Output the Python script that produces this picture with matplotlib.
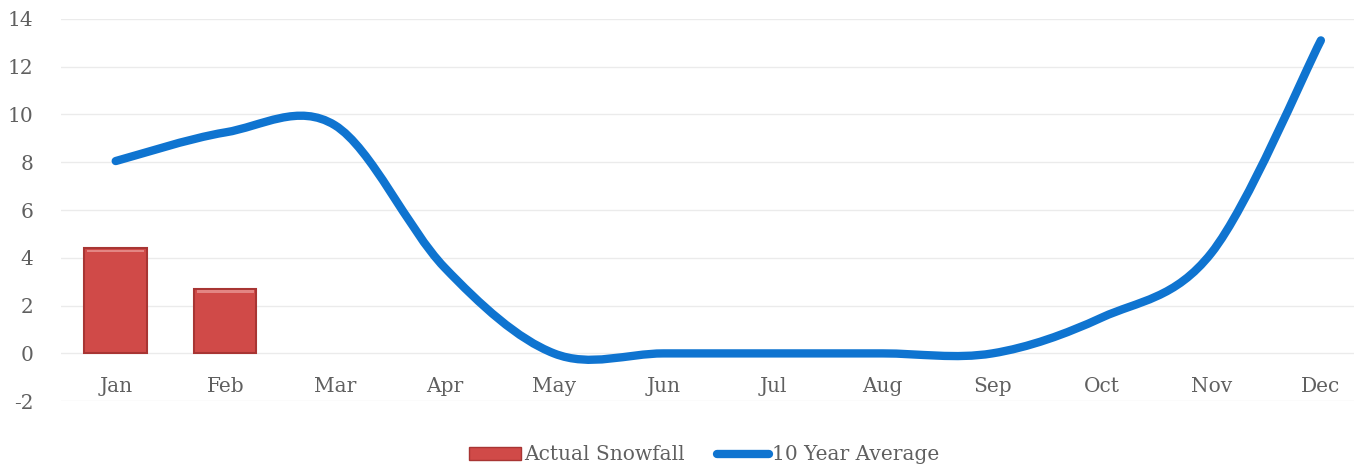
import matplotlib
matplotlib.use("Agg")
import matplotlib.pyplot as plt
import numpy as np
from matplotlib.path import Path
from matplotlib.patches import PathPatch, Patch
from matplotlib.lines import Line2D

months = ['Jan', 'Feb', 'Mar', 'Apr', 'May', 'Jun', 'Jul', 'Aug', 'Sep', 'Oct', 'Nov', 'Dec']
actual_snowfall = [4.4, 2.7]          # only Jan and Feb reported so far
ten_year_average = [8.05, 9.25, 9.55, 3.6, 0.0, 0.0, 0.0, 0.0, 0.0, 1.5, 4.2, 13.1]
y_ticks = [-2, 0, 2, 4, 6, 8, 10, 12, 14]

text_grey = '#606060'
bar_red = '#d04a48'
bar_edge = '#a83533'
line_blue = '#0f74d0'

plt.rcParams['font.family'] = ['DejaVu Serif']
plt.rcParams['axes.unicode_minus'] = False

fig = plt.figure(figsize=(13.54, 4.72), dpi=100)
ax = fig.add_axes([0.045, 0.150, 0.971, 0.810])

x = np.arange(len(months))

# bars for the actual snowfall
ax.bar(x[:len(actual_snowfall)], actual_snowfall, width=0.57, color=bar_red,
       edgecolor=bar_edge, linewidth=1.5, zorder=3)
# light bevel strip along the top of each bar
ax.bar(x[:len(actual_snowfall)], [0.1] * len(actual_snowfall),
       bottom=np.array(actual_snowfall) - 0.16, width=0.52, color='#e38583',
       linewidth=0, zorder=3.5)

# smoothed line through the monthly averages (Catmull-Rom as bezier segments)
pts = np.column_stack([x, ten_year_average]).astype(float)
verts = [tuple(pts[0])]
codes = [Path.MOVETO]
for i in range(len(pts) - 1):
    p0 = pts[i - 1] if i > 0 else pts[i]
    p1 = pts[i]
    p2 = pts[i + 1]
    p3 = pts[i + 2] if i + 2 < len(pts) else pts[i + 1]
    c1 = p1 + (p2 - p0) / 6.0
    c2 = p2 - (p3 - p1) / 6.0
    verts += [tuple(c1), tuple(c2), tuple(p2)]
    codes += [Path.CURVE4] * 3
ax.add_patch(PathPatch(Path(verts, codes), facecolor='none', edgecolor=line_blue,
                       linewidth=6, capstyle='round', joinstyle='round', zorder=4))

ax.set_xlim(-0.5, 11.5)
ax.set_ylim(-2, 14)
ax.set_yticks(y_ticks)
ax.set_xticks(x)
ax.set_xticklabels(months)
ax.grid(axis='y', color='#ebebeb', linewidth=1, zorder=0)
ax.set_axisbelow(True)

for s in ['top', 'right', 'left']:
    ax.spines[s].set_visible(False)
ax.spines['bottom'].set_position(('data', 0))
ax.spines['bottom'].set_color('none')
ax.tick_params(axis='x', length=0, pad=17, labelsize=14.5, labelcolor=text_grey)
ax.tick_params(axis='y', length=0, pad=20, labelsize=14.5, labelcolor=text_grey)

handles = [Patch(facecolor=bar_red, edgecolor=bar_edge, label='Actual Snowfall'),
           Line2D([0], [0], color=line_blue, linewidth=6, solid_capstyle='round',
                  label='10 Year Average')]
fig.legend(handles=handles, loc='lower center', bbox_to_anchor=(0.52, -0.022), ncol=2,
           frameon=False, fontsize=14.5, handlelength=2.6, handleheight=0.6,
           handletextpad=0.15, columnspacing=1.6, labelcolor=text_grey)

fig.savefig('out.png', dpi=100)
